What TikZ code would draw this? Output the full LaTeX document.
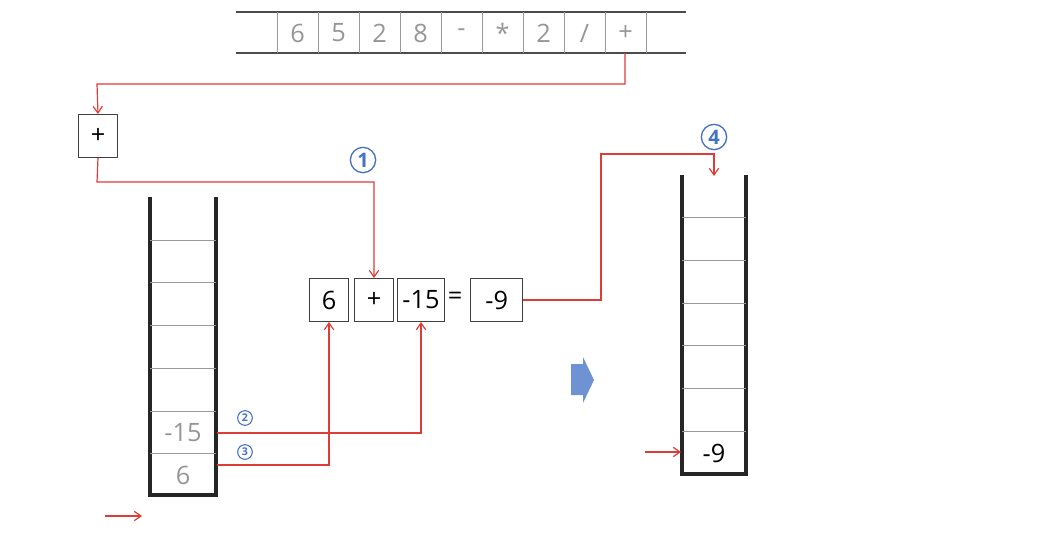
\documentclass[tikz,border=0pt]{standalone}
\usepackage{fontspec}
\setmainfont{Open Sans}
\usetikzlibrary{arrows.meta}
\definecolor{redline}{RGB}{222,60,55}
\definecolor{graytxt}{RGB}{150,150,150}
\definecolor{blueish}{RGB}{68,114,196}
\definecolor{blockblue}{RGB}{110,146,212}
\tikzset{
  px/.style={x=0.75pt,y=-0.75pt},
  redc/.style={draw=redline,line width=0.9pt,-{Straight Barb[length=5pt,width=7pt]}},
  cellbox/.style={draw=black!75,line width=1pt,minimum width=29pt,minimum height=32pt,inner sep=0pt,font=\fontsize{19}{22}\selectfont,anchor=north west},
  tapetxt/.style={text=graytxt,font=\fontsize{19}{22}\selectfont,inner sep=0pt},
  wall/.style={draw=black!85,line width=2.4pt},
  sep/.style={draw=black!40,line width=0.7pt},
  circnum/.style={circle,draw=blueish,text=blueish,line width=1pt,inner sep=0pt,font=\bfseries},
}
\begin{document}
\begin{tikzpicture}[px]
\useasboundingbox (0,0) rectangle (1041,533);
% tape
\draw[draw=black!70,line width=1.4pt] (236,12) -- (686,12);
\draw[draw=black!70,line width=1.4pt] (236,53) -- (686,53);
\foreach \x in {277,318,359,400,441,482,523,564,605,646}
  \draw[sep] (\x,12) -- (\x,53);
\foreach \t [count=\i from 0] in {6,5,2,8,-,*,2,/,+}
  \node[tapetxt] (t\i) at ({297.5+41*\i},33) {\t};
\coordinate (tapeplus) at (625,53);
% + token box
\node[cellbox] (op) at (78,114) {+};
% expression
\node[cellbox] (e6) at (309,278) {6};
\node[cellbox] (eplus) at (354,278) {+};
\node[cellbox,minimum width=35pt] (e15) at (397,278) {-15};
\node[font=\fontsize{19}{22}\selectfont,inner sep=0pt] (eq) at (455,298) {=};
\node[cellbox,minimum width=39pt] (e9) at (470,278) {-9};
% left stack
\draw[wall] (150,197) -- (150,495) -- (216,495) -- (216,197);
\foreach \y in {240,282,325,368,411,453}
  \draw[sep] (150,\y) -- (216,\y);
\node[text=graytxt,font=\fontsize{19}{22}\selectfont,inner sep=0pt] (s15) at (183,433) {-15};
\node[text=graytxt,font=\fontsize{19}{22}\selectfont,inner sep=0pt] (s6) at (183,475) {6};
\coordinate (s15r) at (217,433);
\coordinate (s6r) at (217,465);
% right stack
\draw[wall] (682,175) -- (682,474) -- (746,474) -- (746,175);
\foreach \y in {217,260,303,345,388,431}
  \draw[sep] (682,\y) -- (746,\y);
\node[font=\fontsize{19}{22}\selectfont,inner sep=0pt] (r9) at (714,453) {-9};
\coordinate (rtop) at (714,176);
\coordinate (bend) at (601,154);
% connectors
\draw[redc] (tapeplus) -- (625,84) -- (97,84) -- (op.north);
\draw[redc] (op.south) -- (97,182) -- (374,182) -- (eplus.north);
\draw[redc] (s15r) -| (e15.south);
\draw[redc] (s6r) -| (e6.south);
\draw[redc] (e9.east) -| (bend) -- (714,154) -- (rtop);
\coordinate (a1) at (105,516); \coordinate (a2) at (142,516);
\draw[redc] (a1) -- (a2);
\coordinate (b1) at (645,452); \coordinate (b2) at (681,452);
\draw[redc] (b1) -- (b2);
% circled numbers
\node[circnum,minimum size=19pt,font=\fontsize{15}{15}\selectfont\bfseries] (c1) at (363,160) {1};
\node[circnum,minimum size=11pt,line width=0.8pt,font=\fontsize{8}{8}\selectfont\bfseries] (c2) at (245,418) {2};
\node[circnum,minimum size=11pt,line width=0.8pt,font=\fontsize{8}{8}\selectfont\bfseries] (c3) at (245,452) {3};
\node[circnum,minimum size=19pt,font=\fontsize{15}{15}\selectfont\bfseries] (c4) at (714,137) {4};
% block arrow
\fill[blockblue] (571,364) -- (583,364) -- (583,357) -- (594,380) -- (583,403) -- (583,395) -- (571,395) -- cycle;
\end{tikzpicture}
\end{document}
